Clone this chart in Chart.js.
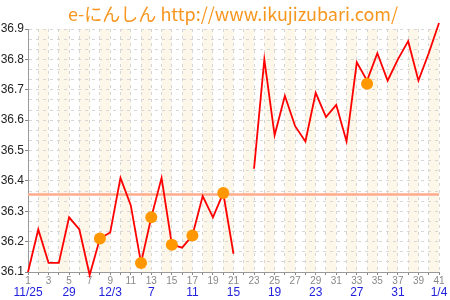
<!DOCTYPE html>
<html>
<head>
<meta charset="utf-8">
<script src="https://cdn.jsdelivr.net/npm/chart.js@4.4.0/dist/chart.umd.min.js"></script>
<style>
html,body{margin:0;padding:0;background:#fff;}
#wrap{width:450px;height:300px;}
</style>
</head>
<body>
<div id="wrap"><canvas id="c" width="450" height="300"></canvas></div>
<script>
// Title
const titleText = 'e-にんしん http://www.ikujizubari.com/';
// Day numbers along the x axis
const days = [1,2,3,4,5,6,7,8,9,10,11,12,13,14,15,16,17,18,19,20,21,22,23,24,25,26,27,28,29,30,31,32,33,34,35,36,37,38,39,40,41];
// Calendar dates shown under the day numbers
const dates = ['11/25','','','','29','','','','12/3','','','','7','','','','11','','','','15','','','','19','','','','23','','','','27','','','','31','','','','1/4'];
// Basal body temperature (°C)
const temps = [36.10,36.24,36.13,36.13,36.28,36.24,36.09,36.21,36.23,36.41,36.32,36.13,36.28,36.41,36.19,36.18,36.22,36.35,36.28,36.36,36.16,null,36.44,36.80,36.55,36.68,36.58,36.53,36.69,36.61,36.65,36.53,36.79,36.73,36.82,36.73,36.80,36.86,36.73,36.82,36.92];
// Marked days (orange dots)
const marks = [null,null,null,null,null,null,null,36.21,null,null,null,36.13,36.28,null,36.19,null,36.22,null,null,36.36,null,null,null,null,null,null,null,null,null,null,null,null,null,36.72,null,null,null,null,null,null,null];
// Reference level line
const refLevel = 36.355;
const refLine = days.map(() => refLevel);
// Y axis range / ticks
const yMin = 36.1, yMax = 36.9;
const yLabels = ['36.1','36.2','36.3','36.4','36.5','36.6','36.7','36.8','36.9'];

const bandPlugin = {
  id: 'bands',
  beforeDraw(chart) {
    const {ctx, chartArea, scales} = chart;
    ctx.save();
    ctx.fillStyle = '#ffffff';
    ctx.fillRect(0, 0, chart.width, chart.height);
    ctx.fillStyle = '#fdf7e9';
    const x = scales.x;
    for (let i = 1; i < days.length - 1; i += 2) {
      const x1 = x.getPixelForValue(i);
      const x2 = x.getPixelForValue(i + 1);
      ctx.fillRect(x1, chartArea.top, x2 - x1, chartArea.bottom - chartArea.top);
    }
    ctx.restore();
  }
};

const titlePlugin = {
  id: 'siteTitle',
  afterDraw(chart) {
    const ctx = chart.ctx;
    ctx.save();
    ctx.fillStyle = '#f7961f';
    ctx.font = '18px "Noto Sans CJK JP", "DejaVu Sans", sans-serif';
    ctx.textAlign = 'center';
    ctx.textBaseline = 'middle';
    ctx.fillText(titleText, 233, 14);
    ctx.restore();
  }
};

new Chart(document.getElementById('c'), {
  type: 'line',
  data: {
    labels: days,
    datasets: [
      {
        data: marks, showLine: false, pointRadius: 6, pointHoverRadius: 6,
        pointBackgroundColor: '#ff9700', pointBorderColor: '#ff9700', pointBorderWidth: 0,
        order: 0, clip: false
      },
      {
        data: temps, borderColor: '#ff0000', borderWidth: 1.8, pointRadius: 0,
        spanGaps: false, tension: 0, order: 1, clip: false
      },
      {
        data: refLine, borderColor: '#ffab8c', borderWidth: 2.5, pointRadius: 0, order: 2
      }
    ]
  },
  options: {
    responsive: false,
    animation: false,
    events: [],
    layout: {padding: {left: 0, right: 11, top: 29, bottom: 0}},
    plugins: {
      legend: {display: false},
      tooltip: {enabled: false},
      title: {display: false}
    },
    scales: {
      x: {
        type: 'category',
        position: 'bottom',
        offset: false,
        grid: {display: true, color: '#d6d6d6', drawTicks: true, tickLength: 3, tickColor: '#888'},
        border: {display: true, color: '#999', width: 1, dash: [3, 4]},
        ticks: {
          autoSkip: false, maxRotation: 0, minRotation: 0, padding: 0,
          color: '#888', font: {family: 'Liberation Sans, Arial, sans-serif', size: 10},
          callback: (v, i) => (i % 2 === 0 ? String(days[i]) : '')
        },
        afterFit: (s) => { s.height = 13; }
      },
      x2: {
        type: 'category',
        position: 'bottom',
        offset: false,
        grid: {display: false, drawTicks: false},
        border: {display: false},
        ticks: {
          autoSkip: false, maxRotation: 0, minRotation: 0, padding: 0,
          color: '#2222dd', font: {family: 'Liberation Sans, Arial, sans-serif', size: 12},
          callback: (v, i) => dates[i]
        },
        afterFit: (s) => { s.height = 15; }
      },
      y: {
        min: yMin, max: yMax,
        afterBuildTicks: (s) => {
          const t = [];
          for (let i = 0; i <= 24; i++) t.push({value: yMin + i * (yMax - yMin) / 24});
          s.ticks = t;
        },
        grid: {
          color: '#d6d6d6', drawTicks: true, tickLength: 3,
          tickColor: (c) => (c.index % 3 === 0 ? '#888' : 'rgba(0,0,0,0)')
        },
        border: {display: true, color: '#999', width: 1, dash: [3, 4]},
        ticks: {
          autoSkip: false, padding: 1, color: '#222',
          font: {family: 'Liberation Sans, Arial, sans-serif', size: 12},
          callback: (v, i) => (i % 3 === 0 ? yLabels[i / 3] : '')
        },
        afterFit: (s) => { s.width = 28; }
      }
    }
  },
  plugins: [bandPlugin, titlePlugin]
});
</script>
</body>
</html>
